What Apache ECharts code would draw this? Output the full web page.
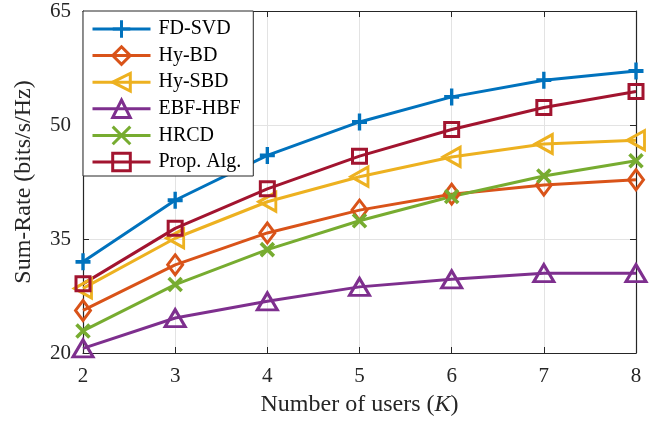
<!DOCTYPE html>
<html>
<head>
<meta charset="utf-8">
<script src="https://cdn.jsdelivr.net/npm/echarts@6/dist/echarts.min.js"></script>
<style>
  html, body { margin: 0; padding: 0; background: #fff; }
  #chart { width: 658px; height: 429px; }
</style>
</head>
<body>
<div id="chart"></div>
<script>
// Number of users K
const users = [2, 3, 4, 5, 6, 7, 8];

// Sum-rate (bits/s/Hz) per scheme
const fdSvd   = [32.0, 40.1, 46.0, 50.4, 53.7, 55.9, 57.1];
const hyBd    = [25.6, 31.6, 35.8, 38.8, 40.9, 42.1, 42.8];
const hySbd   = [28.5, 35.1, 39.9, 43.2, 45.8, 47.5, 48.0];
const ebfHbf  = [20.6, 24.6, 26.8, 28.7, 29.7, 30.5, 30.5];
const hrcd    = [22.9, 29.0, 33.6, 37.4, 40.6, 43.3, 45.3];
const propAlg = [29.1, 36.4, 41.6, 45.9, 49.4, 52.3, 54.4];

// Y tick labels
const yTicks = [20, 35, 50, 65];

const FONT = 'Liberation Serif';
const INK = '#262626';

const PLUS = 'path://M5 0 L5 10 M0 5 L10 5';
const CROSS = 'path://M0 0 L10 10 M10 0 L0 10';
const LEFT_TRI = 'path://M0 5 L10 0 L10 10 Z';

const seriesDefs = [
  { name: 'FD-SVD',     data: fdSvd,   color: '#0072BD', symbol: PLUS,       size: [15, 17], stroke: 3.6 },
  { name: 'Hy-BD',      data: hyBd,    color: '#D95319', symbol: 'diamond',  size: [15, 20], stroke: 3 },
  { name: 'Hy-SBD',     data: hySbd,   color: '#EDB120', symbol: LEFT_TRI,   size: [17, 19], stroke: 3 },
  { name: 'EBF-HBF',    data: ebfHbf,  color: '#7E2F8E', symbol: 'triangle', size: [20, 17], stroke: 3 },
  { name: 'HRCD',       data: hrcd,    color: '#77AC30', symbol: CROSS,      size: [13, 13], stroke: 3.6 },
  { name: 'Prop. Alg.', data: propAlg, color: '#A2142F', symbol: 'rect',     size: [14, 14], stroke: 3 }
];

const series = seriesDefs.map(d => ({
  name: d.name,
  type: 'line',
  xAxisIndex: 0,
  yAxisIndex: 0,
  data: users.map((k, i) => [k, d.data[i]]),
  symbol: d.symbol,
  symbolSize: d.size,
  showAllSymbol: true,
  clip: false,
  lineStyle: { color: d.color, width: 3 },
  itemStyle: { color: 'transparent', borderColor: d.color, borderWidth: d.stroke },
  emphasis: { disabled: true },
  animation: false
}));

const chart = echarts.init(document.getElementById('chart'), null, { renderer: 'canvas' });

const baseAxisLine = { show: true, lineStyle: { color: INK, width: 1.2 } };
const tickStyle = { show: true, inside: true, length: 6, lineStyle: { color: INK, width: 1 } };

chart.setOption({
  animation: false,
  textStyle: { fontFamily: FONT },
  grid: { left: 83, right: 22, top: 11, bottom: 76 },
  legend: {
    orient: 'vertical',
    left: 83,
    top: 11,
    padding: [7, 12, 3, 8],
    itemGap: 4.6,
    itemWidth: 58,
    itemHeight: 22,
    backgroundColor: '#fff',
    borderColor: INK,
    borderWidth: 1,
    borderRadius: 0,
    selectedMode: false,
    itemStyle: { borderWidth: 3 },
    lineStyle: { width: 3 },
    textStyle: { fontFamily: FONT, fontSize: 20, color: '#000', lineHeight: 22, padding: [0, 0, 0, 3] },
    data: seriesDefs.map(d => d.name)
  },
  xAxis: [
    {
      type: 'value', min: 2, max: 8, interval: 1,
      position: 'bottom',
      name: 'Number of users ({k|K})',
      nameLocation: 'middle',
      nameGap: 40,
      nameTextStyle: {
        fontFamily: FONT, fontSize: 24, color: INK,
        rich: { k: { fontFamily: FONT, fontSize: 24, fontStyle: 'italic', color: INK } }
      },
      axisLine: baseAxisLine,
      axisTick: tickStyle,
      axisLabel: { fontFamily: FONT, fontSize: 21, color: INK, margin: 13 },
      splitLine: { show: true, lineStyle: { color: '#e3e3e3', width: 1 } }
    },
    {
      type: 'value', min: 2, max: 8, interval: 1,
      position: 'top',
      axisLine: baseAxisLine,
      axisTick: tickStyle,
      axisLabel: { show: false },
      splitLine: { show: false }
    }
  ],
  yAxis: [
    {
      type: 'value', min: 20, max: 65,
      position: 'left',
      name: 'Sum-Rate (bits/s/Hz)',
      nameLocation: 'middle',
      nameGap: 47,
      nameTextStyle: { fontFamily: FONT, fontSize: 24, color: INK },
      axisLine: baseAxisLine,
      axisTick: Object.assign({}, tickStyle, { customValues: yTicks }),
      axisLabel: { fontFamily: FONT, fontSize: 21, color: INK, margin: 12, customValues: yTicks },
      splitLine: { show: true, lineStyle: { color: '#e3e3e3', width: 1 } }
    },
    {
      type: 'value', min: 20, max: 65,
      position: 'right',
      axisLine: baseAxisLine,
      axisTick: Object.assign({}, tickStyle, { customValues: yTicks }),
      axisLabel: { show: false, customValues: yTicks },
      splitLine: { show: false }
    }
  ],
  series: series
});
</script>
</body>
</html>
